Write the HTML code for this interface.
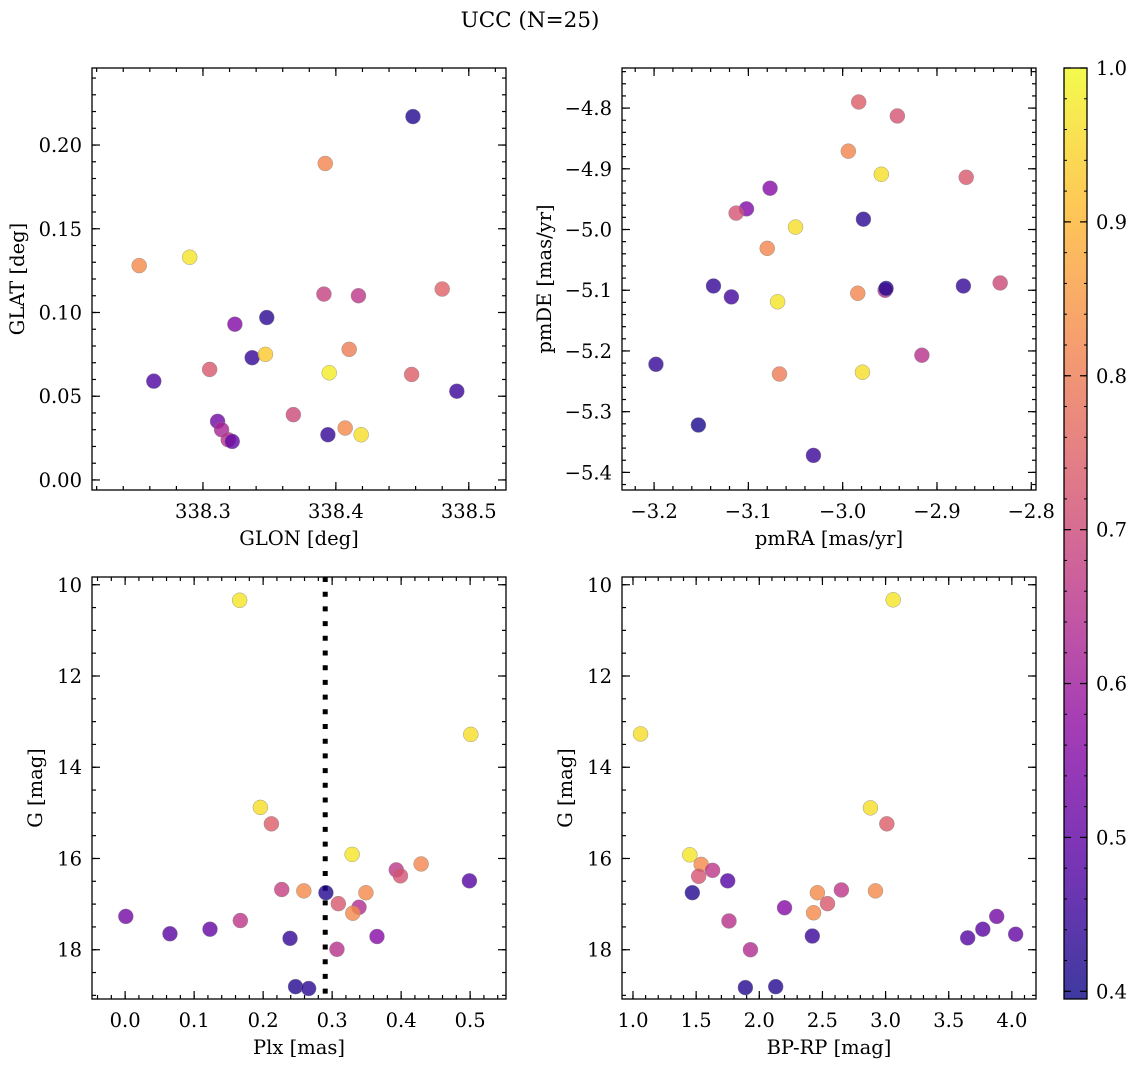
<!DOCTYPE html>
<html><head><meta charset="utf-8"><style>
body{margin:0;background:#fff}
svg{display:block;font-family:"DejaVu Serif","Liberation Serif",serif}
</style></head><body>
<svg id="fig" width="1136" height="1067" viewBox="0 0 1136 1067" xmlns="http://www.w3.org/2000/svg">
<text x="530" y="27" font-size="21.5" text-anchor="middle">UCC (N=25)</text>
</svg>
<script>
// ---- data ----
const p1Glon=[338.458,338.392,338.252,338.290,338.391,338.417,338.480,338.324,338.348,338.337,338.347,338.410,338.263,338.305,338.395,338.457,338.491,338.368,338.311,338.314,338.319,338.322,338.394,338.407,338.419];
const p1Glat=[0.217,0.189,0.128,0.133,0.111,0.110,0.114,0.093,0.097,0.073,0.075,0.078,0.059,0.066,0.064,0.063,0.053,0.039,0.035,0.030,0.024,0.023,0.027,0.031,0.027];
const p1C=[0.42,0.82,0.83,0.97,0.68,0.66,0.75,0.55,0.43,0.44,0.93,0.80,0.47,0.73,0.98,0.74,0.45,0.70,0.52,0.62,0.65,0.50,0.44,0.83,0.96];
const p2PmRA=[-2.983,-2.942,-2.994,-2.959,-3.077,-3.102,-3.113,-2.869,-2.978,-3.050,-3.080,-3.137,-3.118,-3.069,-2.984,-2.955,-2.954,-2.872,-2.833,-2.916,-3.067,-2.979,-3.198,-3.153,-3.031];
const p2PmDE=[-4.790,-4.813,-4.871,-4.909,-4.932,-4.966,-4.973,-4.914,-4.983,-4.996,-5.031,-5.093,-5.111,-5.119,-5.105,-5.100,-5.097,-5.093,-5.088,-5.207,-5.238,-5.235,-5.222,-5.322,-5.372];
const p2C=[0.74,0.72,0.82,0.96,0.56,0.55,0.72,0.73,0.43,0.96,0.82,0.44,0.46,0.97,0.82,0.64,0.42,0.44,0.70,0.65,0.80,0.96,0.44,0.41,0.45];
const p3Plx=[0.166,0.501,0.196,0.212,0.329,0.393,0.399,0.429,0.499,0.001,0.065,0.123,0.167,0.227,0.259,0.291,0.309,0.339,0.330,0.349,0.239,0.307,0.365,0.247,0.266];
const p3G=[10.34,13.28,14.88,15.24,15.91,16.25,16.38,16.12,16.49,17.27,17.65,17.55,17.36,16.68,16.71,16.75,16.99,17.07,17.20,16.75,17.75,17.99,17.71,18.81,18.85];
const p3C=[0.97,0.96,0.96,0.74,0.97,0.66,0.72,0.82,0.48,0.53,0.49,0.50,0.66,0.68,0.83,0.42,0.73,0.64,0.83,0.83,0.44,0.65,0.56,0.42,0.43];
const plxLine=0.29;
const p4BpRp=[3.06,1.06,2.88,3.01,1.45,1.54,1.63,1.52,1.75,1.47,2.46,2.65,2.92,2.54,2.43,2.20,1.76,3.88,3.77,4.03,3.65,2.42,1.93,1.89,2.13];
const p4G=[10.33,13.27,14.89,15.24,15.92,16.13,16.26,16.39,16.49,16.75,16.75,16.69,16.71,16.99,17.19,17.08,17.37,17.27,17.55,17.66,17.74,17.70,18.0,18.83,18.81];
const p4C=[0.97,0.96,0.96,0.74,0.97,0.83,0.66,0.72,0.48,0.42,0.83,0.66,0.83,0.73,0.83,0.56,0.65,0.53,0.49,0.50,0.48,0.45,0.64,0.42,0.42];
const cbTicks=[0.4,0.5,0.6,0.7,0.8,0.9,1.0];
const VMIN=0.395, VMAX=1.0;

const NS="http://www.w3.org/2000/svg";
const svg=document.getElementById('fig');
const FS=19.5;
function el(tag,attrs,parent){const e=document.createElementNS(NS,tag);for(const k in attrs)e.setAttribute(k,attrs[k]);(parent||svg).appendChild(e);return e;}
const plasma=[[13,8,135],[84,2,163],[139,10,165],[185,50,137],[219,92,104],[244,136,73],[254,188,43],[240,249,33]];
function cmap(v){let t=(v-VMIN)/(VMAX-VMIN);t=Math.max(0,Math.min(1,t));const s=t*(plasma.length-1);const i=Math.min(Math.floor(s),plasma.length-2);const f=s-i;const a=plasma[i],b=plasma[i+1];return `rgb(${Math.round(a[0]+(b[0]-a[0])*f)},${Math.round(a[1]+(b[1]-a[1])*f)},${Math.round(a[2]+(b[2]-a[2])*f)})`;}
function fmt(v,d){let s=v.toFixed(d);if(v<-1e-9)s='\u2212'+s.slice(1);return s;}

function panel(o){
  const g=el('g',{});
  
  
  const X=v=>o.L+(v-o.x0)/(o.x1-o.x0)*(o.R-o.L);
  const Y=v=>o.inv? o.T+(v-o.y0)/(o.y1-o.y0)*(o.B-o.T) : o.B-(v-o.y0)/(o.y1-o.y0)*(o.B-o.T);
  const tg=el('g',{stroke:'#000','stroke-width':1.2},g);
  function rng(a,b,st){const r=[];const s=Math.ceil(Math.min(a,b)/st-1e-6);for(let k=s;k*st<=Math.max(a,b)+1e-9;k++)r.push(+(k*st).toFixed(6));return r;}
  rng(o.x0,o.x1,o.xmin).forEach(v=>{const x=X(v);el('line',{x1:x,x2:x,y1:o.B,y2:o.B-4},tg);el('line',{x1:x,x2:x,y1:o.T,y2:o.T+4},tg);});
  rng(o.y0,o.y1,o.ymin).forEach(v=>{const y=Y(v);el('line',{x1:o.L,x2:o.L+4,y1:y,y2:y},tg);el('line',{x1:o.R,x2:o.R-4,y1:y,y2:y},tg);});
  o.xt.forEach(v=>{const x=X(v);el('line',{x1:x,x2:x,y1:o.B,y2:o.B-8},tg);el('line',{x1:x,x2:x,y1:o.T,y2:o.T+8},tg);
    const t=el('text',{x:x,y:o.B+28,'font-size':FS,'text-anchor':'middle'},g);t.textContent=fmt(v,o.xd);
    
    });
  o.yt.forEach(v=>{const y=Y(v);el('line',{x1:o.L,x2:o.L+8,y1:y,y2:y},tg);el('line',{x1:o.R,x2:o.R-8,y1:y,y2:y},tg);
    const t=el('text',{x:o.L-10,y:y+7,'font-size':FS,'text-anchor':'end'},g);t.textContent=fmt(v,o.yd);
    
    });
  if(o.vline!==undefined){const l=el('line',{x1:X(o.vline),x2:X(o.vline),y1:o.T,y2:o.B,stroke:'#000','stroke-width':5,'stroke-dasharray':'5 9.7'},g);
    
    }
  o.xs.forEach((v,i)=>{const c=el('circle',{cx:X(v),cy:Y(o.ys[i]),r:7.5,fill:cmap(o.cs[i]),'fill-opacity':0.8,stroke:'#888','stroke-width':0.4},g);
    
    });
  const fr=el('rect',{x:o.L,y:o.T,width:o.R-o.L,height:o.B-o.T,fill:'none',stroke:'#000','stroke-width':1.3},g);
  
  
  const xl=el('text',{x:(o.L+o.R)/2,y:o.B+55,'font-size':FS,'text-anchor':'middle'},g);xl.textContent=o.xlab;
  
  
  const yx=o.ylx,yy=(o.T+o.B)/2;
  const yl=el('text',{x:yx,y:yy,'font-size':FS,'text-anchor':'middle',transform:`rotate(-90 ${yx} ${yy})`},g);yl.textContent=o.ylab;
  
  
}
panel({name:'glon-glat-panel',L:92,R:506,T:68,B:490,x0:338.2165,x1:338.528,y0:-0.006,y1:0.246,inv:false,
  xt:[338.3,338.4,338.5],xd:1,xmin:0.02,yt:[0,0.05,0.1,0.15,0.2],yd:2,ymin:0.01,
  xs:p1Glon,ys:p1Glat,cs:p1C,xlab:'GLON [deg]',ylab:'GLAT [deg]',ylx:24});
panel({name:'proper-motion-panel',L:622,R:1036,T:68,B:490,x0:-3.234,x1:-2.795,y0:-5.429,y1:-4.734,inv:false,
  xt:[-3.2,-3.1,-3.0,-2.9,-2.8],xd:1,xmin:0.02,yt:[-5.4,-5.3,-5.2,-5.1,-5.0,-4.9,-4.8],yd:1,ymin:0.02,
  xs:p2PmRA,ys:p2PmDE,cs:p2C,xlab:'pmRA [mas/yr]',ylab:'pmDE [mas/yr]',ylx:551});
panel({name:'plx-g-panel',L:92,R:506,T:577,B:999,x0:-0.048,x1:0.552,y0:9.83,y1:19.08,inv:true,
  xt:[0,0.1,0.2,0.3,0.4,0.5],xd:1,xmin:0.02,yt:[10,12,14,16,18],yd:0,ymin:0.5,
  xs:p3Plx,ys:p3G,cs:p3C,xlab:'Plx [mas]',ylab:'G [mag]',ylx:42,vline:plxLine});
panel({name:'cmd-panel',L:622,R:1036,T:577,B:999,x0:0.913,x1:4.191,y0:9.83,y1:19.08,inv:true,
  xt:[1.0,1.5,2.0,2.5,3.0,3.5,4.0],xd:1,xmin:0.1,yt:[10,12,14,16,18],yd:0,ymin:0.5,
  xs:p4BpRp,ys:p4G,cs:p4C,xlab:'BP-RP [mag]',ylab:'G [mag]',ylx:572});

// colorbar
const cbL=1064,cbR=1087,cbT=68,cbB=999;
const defs=el('defs',{});
const lg=el('linearGradient',{id:'cbg',x1:0,y1:1,x2:0,y2:0},defs);
for(let i=0;i<=20;i++){el('stop',{offset:i/20,'stop-color':cmap(VMIN+(VMAX-VMIN)*i/20),'stop-opacity':0.8},lg);}
const cb=el('rect',{x:cbL,y:cbT,width:cbR-cbL,height:cbB-cbT,fill:'url(#cbg)',stroke:'#000','stroke-width':1.3});


const CY=v=>cbB-(v-VMIN)/(VMAX-VMIN)*(cbB-cbT);
for(let k=20;k<=50;k++){const v=k*0.02;if(v<VMIN||v>VMAX+1e-9)continue;const y=CY(v);el('line',{x1:cbR,x2:cbR-3,y1:y,y2:y,stroke:'#000','stroke-width':1});el('line',{x1:cbL,x2:cbL+3,y1:y,y2:y,stroke:'#000','stroke-width':1});}
cbTicks.forEach(v=>{const y=CY(v);el('line',{x1:cbR,x2:cbR-7,y1:y,y2:y,stroke:'#000','stroke-width':1.2});el('line',{x1:cbL,x2:cbL+7,y1:y,y2:y,stroke:'#000','stroke-width':1.2});
  const t=el('text',{x:cbR+9,y:y+7,'font-size':FS},svg);t.textContent=v.toFixed(1);
  
  });
</script>
</body></html>
